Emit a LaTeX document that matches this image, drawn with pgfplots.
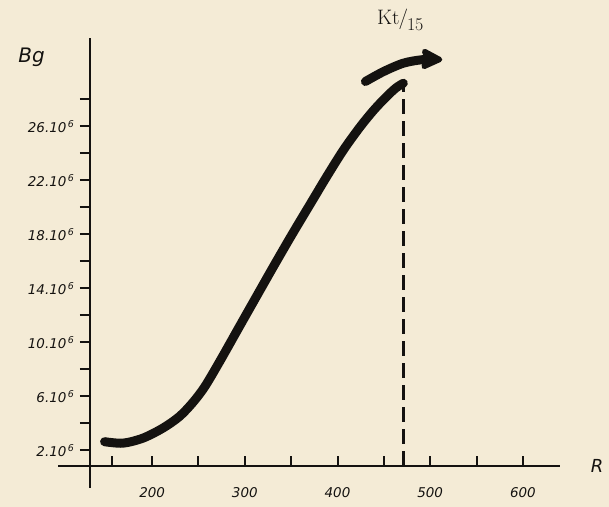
\documentclass[border=0pt]{standalone}
\usepackage{fontspec}
\setsansfont{DejaVu Sans}
\usepackage{pgfplots}
\pgfplotsset{compat=1.18}
\usetikzlibrary{arrows.meta,backgrounds,calc}
\definecolor{paper}{RGB}{244,235,214}
\definecolor{ink}{RGB}{20,18,16}
\begin{document}
\begin{tikzpicture}
\begin{axis}[
  scale only axis, width=470bp, height=428bp,
  xmin=133, xmax=640, ymin=0.81, ymax=32.5,
  axis lines*=left,
  axis line style={line width=2.4bp, ink},
  clip=false,
  xtick={157,200,250,300,350,400,450,500,550,600},
  xticklabels={,200,,300,,400,,500,,600},
  ytick={2,4,...,28},
  yticklabels={2.10\textsuperscript{\,6},,6.10\textsuperscript{\,6},,10.10\textsuperscript{\,6},,14.10\textsuperscript{\,6},,18.10\textsuperscript{\,6},,22.10\textsuperscript{\,6},,26.10\textsuperscript{\,6},},
  tick style={line width=2bp, ink},
  major tick length=10bp,
  xtick align=inside,
  ytick align=outside,
  ticklabel style={font=\sffamily\itshape\fontsize{13.5}{15}\selectfont, ink},
  x tick label style={yshift=-18bp},
  y tick label style={xshift=-2bp, yshift=-1bp},
]
\coordinate (ll) at (rel axis cs:0,0);
\coordinate (ur) at (rel axis cs:1,1);
\draw[line width=2.4bp, ink] (axis cs:133,0.81) -- (axis cs:99,0.81);
\draw[line width=2.4bp, ink] (axis cs:133,0.81) -- (axis cs:133,-0.8);
% main curve
\addplot[ink, line width=9bp, line cap=round, smooth] coordinates {
(148.7,2.61) (168.5,2.50) (190.0,2.87) (211.5,3.61) (229.4,4.47)
(243.8,5.5) (257.0,6.7) (274.2,8.7) (293.9,11.1) (313.7,13.5)
(331.5,15.65) (350.5,17.9) (371.0,20.25) (388.9,22.3) (406.8,24.25)
(424.7,25.95) (439.0,27.15) (452,28.1) (463,28.8) (471,29.15)
};
% arrow
\addplot[ink, line width=9bp, line cap=round, smooth,
  -{Stealth[length=26bp,width=25bp,round,inset=5bp]}] coordinates {
(430.1,29.28) (449.8,30.02) (471.3,30.64) (492.5,30.9) (513,30.9)
};
% dashed marker
\addplot[ink, line width=3bp, dash pattern=on 15bp off 7bp] coordinates {
(471,0.81) (471,29.0)
};
\node[font=\sffamily\itshape\fontsize{20}{22}\selectfont, ink] at (axis cs:70,31.1) {Bg};
\node[font=\sffamily\itshape\fontsize{18}{20}\selectfont, ink] at (axis cs:680,0.8) {R};
\node[font=\fontsize{21}{23}\selectfont, ink] at (axis cs:467.7,33.85) {Kt\kern-1pt$/$\kern-1pt\raisebox{-0.32em}{\fontsize{18}{20}\selectfont 15}};
\end{axis}
\begin{scope}[on background layer]
\fill[paper] ($(ll)+(-90bp,-41bp)$) rectangle ($(ur)+(49bp,38bp)$);
\end{scope}
\pgfresetboundingbox
\path ($(ll)+(-90bp,-41bp)$) rectangle ($(ur)+(49bp,38bp)$);
\end{tikzpicture}
\end{document}
